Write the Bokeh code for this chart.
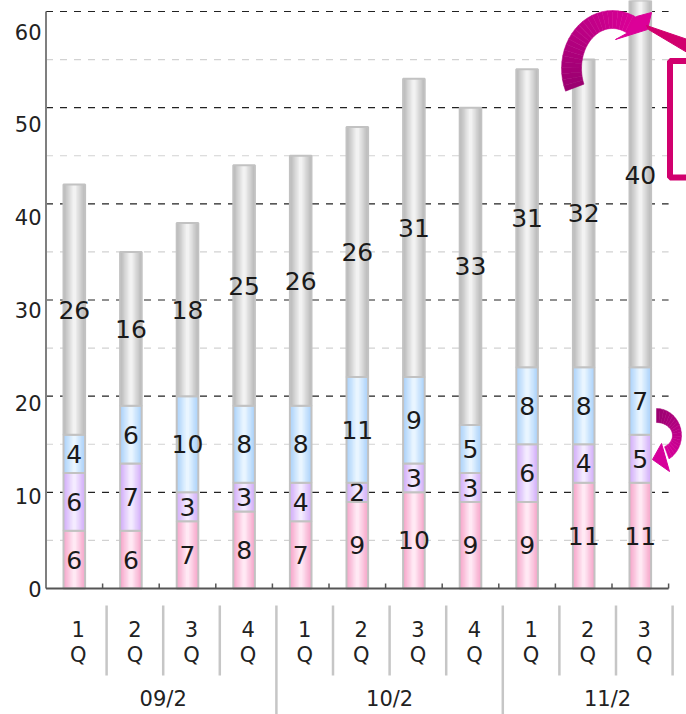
import numpy as np
from bokeh.plotting import figure
from bokeh.models import Range1d
from bokeh.embed import file_html
from bokeh.resources import INLINE
from bokeh.core.properties import value

# ---------------- data ----------------
quarters = ["1", "2", "3", "4", "1", "2", "3", "4", "1", "2", "3"]
years = ["09/2", "10/2", "11/2"]
year_starts = [0, 4, 8]
pink = [6, 6, 7, 8, 7, 9, 10, 9, 9, 11, 11]
purple = [6, 7, 3, 3, 4, 2, 3, 3, 6, 4, 5]
blue = [4, 6, 10, 8, 8, 11, 9, 5, 8, 8, 7]
gray = [26, 16, 18, 25, 26, 26, 31, 33, 31, 32, 40]
y_ticks = [0, 10, 20, 30, 40, 50, 60]
grid_levels = [5, 10, 15, 20, 25, 30, 35, 40, 45, 50, 55, 60]

# ---------------- layout helpers (pixel -> data) ----------------
W, H = 686, 714
X0PX, XU = 45.5, 56.6
Y0PX, YU = 588.0, 9.617
FONT = value("DejaVu Sans")
SHIFT = 4.0 / XU          # bottom labels are shifted a little right
LABEL_SQUEEZE = 0.965     # y tick labels are slightly compressed


def dx(xp):
    return (xp - X0PX) / XU


def dy(yp):
    return (Y0PX - yp) / YU


n = len(quarters)
xs = [i + 0.5 for i in range(n)]

p = figure(width=W, height=H, x_range=Range1d(dx(0), dx(W)), y_range=Range1d(dy(H), dy(0)),
           output_backend="svg", toolbar_location=None, min_border=0,
           x_axis_type=None, y_axis_type=None)
p.outline_line_color = None
p.background_fill_color = "white"
p.border_fill_color = "white"

# ---------------- grid ----------------
maj = [v for v in grid_levels if v % 10 == 0]
mnr = [v for v in grid_levels if v % 10 != 0]
p.segment(x0=[0] * len(mnr), x1=[n] * len(mnr), y0=mnr, y1=mnr,
          line_color="#d2d2d2", line_width=1.2, line_dash="7 7")
p.segment(x0=[0] * len(maj), x1=[n] * len(maj), y0=maj, y1=maj,
          line_color="#222222", line_width=1.2, line_dash="7 7")

# ---------------- stacked bars with pseudo gradient ----------------
series = [pink, purple, blue, gray]
edge_cols = ["#f6a6ca", "#d2aef9", "#abd2fa", "#bababa"]
center_cols = ["#ffe9f4", "#f4ebff", "#e9f5ff", "#f2f2f2"]
BW = 21.6 / XU


def mix(c1, c2, t):
    a = [int(c1[i:i + 2], 16) for i in (1, 3, 5)]
    b = [int(c2[i:i + 2], 16) for i in (1, 3, 5)]
    return "#%02x%02x%02x" % tuple(int(round(a[k] + (b[k] - a[k]) * t)) for k in range(3))


bottoms = np.zeros(n)
NL = 8
for s, ec, cc in zip(series, edge_cols, center_cols):
    vals = np.array(s, dtype=float)
    tops = bottoms + vals
    for k in range(NL):
        t = k / (NL - 1)
        p.vbar(x=xs, width=BW * (1 - 0.85 * t), bottom=list(bottoms), top=list(tops),
               fill_color=mix(ec, cc, t), line_color=None)
    p.vbar(x=xs, width=BW, bottom=list(bottoms), top=list(tops),
           fill_color=None, line_color="#c2c2c2", line_width=2)
    mids = list((bottoms + tops) / 2)
    p.text(x=xs, y=mids, text=[str(v) for v in s], text_align="center",
           text_baseline="middle", text_font=FONT, text_font_size="25px",
           text_color="#1a1a1a")
    bottoms = tops

# ---------------- axes ----------------
p.segment(x0=[0], x1=[0], y0=[0], y1=[max(y_ticks)], line_color="#7f7f7f", line_width=2)
p.segment(x0=[0], x1=[n], y0=[0], y1=[0], line_color="#555555", line_width=2)
tk = list(range(1, n + 1))
p.segment(x0=tk, x1=tk, y0=[0] * n, y1=[dy(583)] * n, line_color="#555555", line_width=1.5)

p.text(x=[dx(41)] * len(y_ticks), y=[v * LABEL_SQUEEZE for v in y_ticks],
       text=[str(v) for v in y_ticks], text_align="right", text_baseline="middle",
       text_font=FONT, text_font_size="21px", text_color="#222222")

# category labels
p.text(x=[x + SHIFT for x in xs], y=[dy(628)] * n, text=quarters, text_align="center",
       text_baseline="middle", text_font=FONT, text_font_size="21px", text_color="#222222")
p.text(x=[x + SHIFT for x in xs], y=[dy(654)] * n, text=["Q"] * n, text_align="center",
       text_baseline="middle", text_font=FONT, text_font_size="21px", text_color="#222222")

# separators
sep_x = [k + SHIFT for k in range(1, n + 1)]
sep_bottom = [dy(714) if k in year_starts[1:] else dy(675) for k in range(1, n + 1)]
p.segment(x0=sep_x, x1=sep_x, y0=[dy(605)] * n, y1=sep_bottom,
          line_color="#c6c6c6", line_width=2.5)

# year labels
p.text(x=[s + 2 + SHIFT - (0.15 if s == year_starts[-1] else 0) for s in year_starts],
       y=[dy(698)] * len(years), text=years, text_align="center", text_baseline="middle",
       text_font=FONT, text_font_size="21px", text_color="#222222")

# ---------------- magenta annotations ----------------
def arc_chunks(cx, cy, rxo, ryo, rxi, ryi, th0, th1, nseg, c0, c1):
    th = np.radians(np.linspace(th0, th1, nseg + 1))
    pxs, pys, cols = [], [], []
    for i in range(nseg):
        a, b = th[i], th[i + 1]
        ox = [cx + rxo * np.cos(a), cx + rxo * np.cos(b)]
        oy = [cy - ryo * np.sin(a), cy - ryo * np.sin(b)]
        ix = [cx + rxi * np.cos(b), cx + rxi * np.cos(a)]
        iy = [cy - ryi * np.sin(b), cy - ryi * np.sin(a)]
        pxs.append([dx(v) for v in ox + ix])
        pys.append([dy(v) for v in oy + iy])
        cols.append(mix(c0, c1, (i + 0.5) / nseg))
    return pxs, pys, cols


# big curved arrow near the last bar
ax_, ay_, ac_ = arc_chunks(612, 68, 51, 58, 31, 40, 203, 60, 24, "#9a006f", "#dc0098")
p.patches(xs=ax_, ys=ay_, fill_color=ac_, line_color=ac_, line_width=0.5)
head = [(636, 16), (651, 12), (647, 29), (615, 39), (626, 33)]
p.patch(x=[dx(a) for a, b in head], y=[dy(b) for a, b in head],
        fill_color="#dc0098", line_color="#dc0098")

# pointer wedge and callout box
wedge = [(646, 25), (690, 40), (690, 54), (648, 29)]
p.patch(x=[dx(a) for a, b in wedge], y=[dy(b) for a, b in wedge],
        fill_color="#d1006e", line_color="#d1006e")
p.quad(left=[dx(669.5)], right=[dx(740)], top=[dy(60.5)], bottom=[dy(177)],
       fill_color=None, line_color="#d1006e", line_width=6)

# small curved arrow beside the last bar
sx_, sy_, sc_ = arc_chunks(656, 435, 25, 27, 16, 13, 90, -60, 18, "#9a006f", "#d6009a")
p.patches(xs=sx_, ys=sy_, fill_color=sc_, line_color=sc_, line_width=0.5)
shead = [(661, 443), (652, 459), (669, 471)]
p.patch(x=[dx(a) for a, b in shead], y=[dy(b) for a, b in shead],
        fill_color="#d6009a", line_color="#d6009a")

open("out.html", "w").write(file_html(p, INLINE))
